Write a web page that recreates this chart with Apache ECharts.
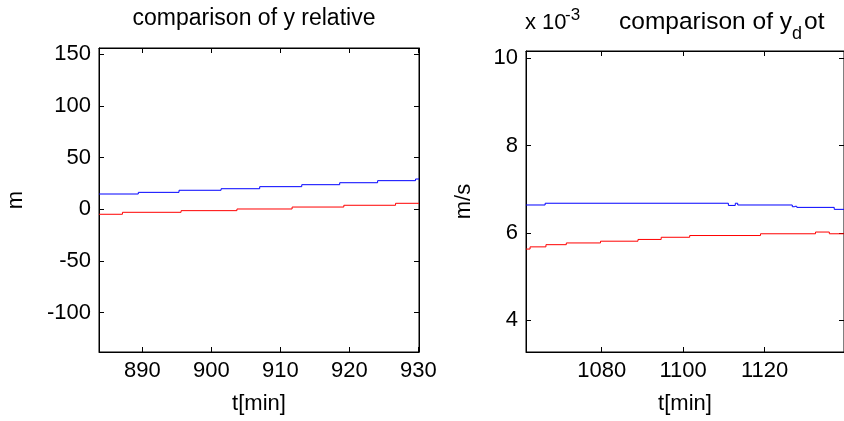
<!DOCTYPE html>
<html>
<head>
<meta charset="utf-8">
<script src="https://cdn.jsdelivr.net/npm/echarts@6/dist/echarts.min.js"></script>
<style>
html,body{margin:0;padding:0;background:#fff;}
#c{width:844px;height:421px;}
</style>
</head>
<body>
<div id="c"></div>
<script>
// ---- data ----
var leftBlueT = [883.7, 889.4, 895.3, 901.4, 907.0, 913.1, 918.6, 924.1, 929.6, 930.1];
var leftBlueV = [14.8, 16.4, 18.4, 19.9, 21.9, 23.8, 25.7, 27.7, 29.3, 29.3];
var leftRedT  = [883.7, 887.1, 895.6, 903.7, 911.7, 919.2, 926.7, 930.1];
var leftRedV  = [-4.8, -2.9, -1.3, 0.3, 2.2, 3.9, 5.8, 5.8];

var rightBlueT = [1061.4, 1066.1, 1111.1, 1112.8, 1113.4, 1126.8, 1127.4, 1127.9, 1137.1, 1139.5];
var rightBlueV = [6.64, 6.68, 6.63, 6.68, 6.64, 6.60, 6.61, 6.585, 6.54, 6.54];
var rightRedT  = [1061.4, 1062.4, 1066.3, 1071.3, 1079.7, 1088.9, 1094.6, 1101.6, 1119.0, 1132.5, 1135.9, 1139.5];
var rightRedV  = [5.63, 5.68, 5.73, 5.77, 5.81, 5.85, 5.90, 5.94, 5.98, 6.02, 5.98, 5.98];

var leftXTicks  = [890, 900, 910, 920, 930];
var leftYTicks  = [-100, -50, 0, 50, 100, 150];
var rightXTicks = [1080, 1100, 1120];
var rightYTicks = [4, 6, 8, 10];

// one item per stair: [tStart, value, tNext, nextValue]
function stairs(t, v) {
  var out = [];
  for (var i = 0; i < t.length - 1; i++) out.push([t[i], v[i], t[i + 1], v[i + 1]]);
  return out;
}

var FONT = 'Liberation Sans, Arial, sans-serif';
var FS = 22;
function plain(v) { return String(v); }

function xAxisDef(grid, pos, min, max, ticks, labels, name) {
  return {
    type: 'value', gridIndex: grid, position: pos, min: min, max: max,
    axisLine: { show: true, onZero: false, lineStyle: { color: '#000', width: 1 } },
    axisTick: { show: true, inside: true, length: 5, customValues: ticks, lineStyle: { color: '#000' } },
    axisLabel: labels ? { show: true, customValues: ticks, formatter: plain, margin: 8, color: '#000', fontSize: FS, fontFamily: FONT } : { show: false },
    splitLine: { show: false },
    name: name || '', nameLocation: 'middle', nameGap: 41,
    nameTextStyle: { color: '#000', fontSize: FS, fontFamily: FONT }
  };
}
function yAxisDef(grid, pos, min, max, ticks, labels, name, gap) {
  return {
    type: 'value', gridIndex: grid, position: pos, min: min, max: max,
    axisLine: { show: true, onZero: false, lineStyle: { color: '#000', width: 1 } },
    axisTick: { show: true, inside: true, length: 5, customValues: ticks, lineStyle: { color: '#000' } },
    axisLabel: labels ? { show: true, customValues: ticks, formatter: plain, margin: 8, color: '#000', fontSize: FS, fontFamily: FONT } : { show: false },
    splitLine: { show: false },
    name: name || '', nameLocation: 'middle', nameGap: gap || 50, nameRotate: 90,
    nameTextStyle: { color: '#000', fontSize: FS, fontFamily: FONT }
  };
}

function stairSeries(xi, yi, t, v, color) {
  return {
    type: 'custom', xAxisIndex: xi, yAxisIndex: yi,
    data: stairs(t, v),
    encode: { x: [0, 2], y: [1, 3] },
    renderItem: function (params, api) {
      var p0 = api.coord([api.value(0), api.value(1)]);
      var p1 = api.coord([api.value(2), api.value(1)]);
      var p2 = api.coord([api.value(2), api.value(3)]);
      return { type: 'polyline', shape: { points: [p0, p1, p2] }, style: { stroke: color, lineWidth: 1, fill: null } };
    }
  };
}

var chart = echarts.init(document.getElementById('c'), null, { renderer: 'canvas' });
var option = {
  animation: false,
  backgroundColor: '#fff',
  grid: [
    { left: 99, top: 48, width: 320, height: 304, show: true, borderColor: '#000', borderWidth: 1, containLabel: false },
    { left: 526, top: 51, width: 322, height: 301, show: true, borderColor: '#000', borderWidth: 1, containLabel: false }
  ],
  xAxis: [
    xAxisDef(0, 'bottom', 883.7, 930.1, leftXTicks, true, 't[min]'),
    xAxisDef(0, 'top', 883.7, 930.1, leftXTicks, false),
    xAxisDef(1, 'bottom', 1061.4, 1139.5, rightXTicks, true, 't[min]'),
    xAxisDef(1, 'top', 1061.4, 1139.5, rightXTicks, false)
  ],
  yAxis: [
    yAxisDef(0, 'left', -138, 156, leftYTicks, true, 'm', 72),
    yAxisDef(0, 'right', -138, 156, leftYTicks, false),
    yAxisDef(1, 'left', 3.27, 10.17, rightYTicks, true, 'm/s', 51),
    yAxisDef(1, 'right', 3.27, 10.17, rightYTicks, false)
  ],
  series: [
    stairSeries(0, 0, leftBlueT, leftBlueV, '#0000ff'),
    stairSeries(0, 0, leftRedT, leftRedV, '#ff0000'),
    stairSeries(2, 2, rightBlueT, rightBlueV, '#0000ff'),
    stairSeries(2, 2, rightRedT, rightRedV, '#ff0000')
  ],
  graphic: [
    { type: 'text', x: 254, y: 19, style: { text: 'comparison of y relative', fill: '#000', font: '23px ' + FONT, align: 'center', verticalAlign: 'middle' } },
    { type: 'text', x: 525, y: 23, style: { text: 'x 10', fill: '#000', font: FS + 'px ' + FONT, align: 'left', verticalAlign: 'middle' } },
    { type: 'text', x: 565, y: 15, style: { text: '-3', fill: '#000', font: '17px ' + FONT, align: 'left', verticalAlign: 'middle' } },
    { type: 'text', x: 792, y: 22, style: { text: 'comparison of y', fill: '#000', font: '24.5px ' + FONT, align: 'right', verticalAlign: 'middle' } },
    { type: 'text', x: 792, y: 34, style: { text: 'd', fill: '#000', font: '18px ' + FONT, align: 'left', verticalAlign: 'middle' } },
    { type: 'text', x: 804, y: 22, style: { text: 'ot', fill: '#000', font: '24.5px ' + FONT, align: 'left', verticalAlign: 'middle' } }
  ]
};
chart.setOption(option);
</script>
</body>
</html>
